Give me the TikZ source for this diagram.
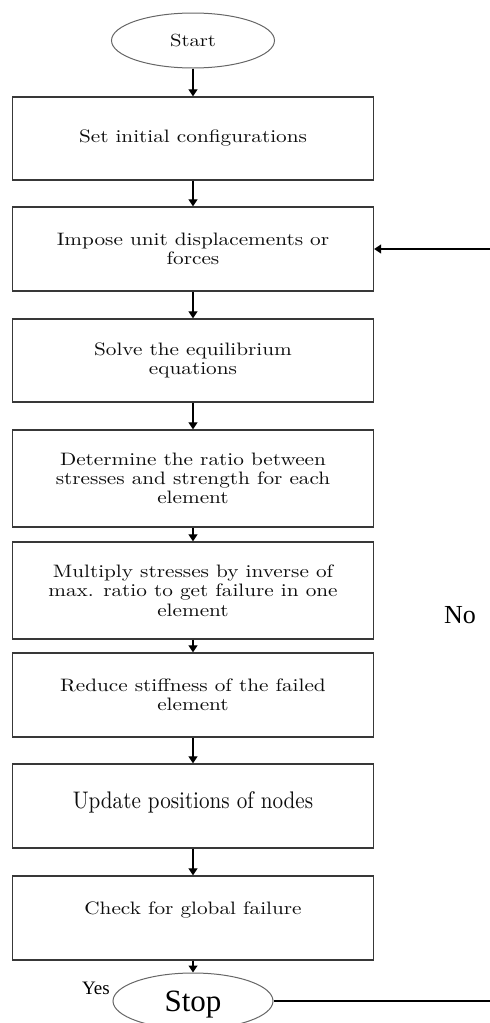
\documentclass[tikz,border=0pt]{standalone}
\usepackage{fontspec}
\usetikzlibrary{arrows.meta,shapes.geometric}
\newfontfamily\boxfont{lmroman10-regular.otf}[FakeStretch=1.18]
\newfontfamily\updfont{lmroman10-regular.otf}[FakeStretch=0.88]
\newfontfamily\tnr{LiberationSerif}[Extension=.ttf, UprightFont=*-Regular]
\definecolor{boxline}{gray}{0.22}
\definecolor{ellline}{gray}{0.4}
\definecolor{textcol}{gray}{0.05}
\begin{document}
\begin{tikzpicture}[x=1pt,y=-1pt,
  procbox/.style={draw=boxline, line width=1.3pt, rectangle, minimum width=361pt,
    inner sep=0pt, align=center, text=textcol, font=\boxfont\fontsize{18}{19.3}\selectfont},
  term/.style={draw=ellline, line width=1pt, ellipse, inner sep=0pt},
  flow/.style={draw=black, line width=1.2pt, -{Triangle[length=7pt,width=9pt]}},
  plain/.style={draw=black, line width=1.1pt}]
\useasboundingbox (0,0) rectangle (490,1023);

\node[term, minimum width=163pt, minimum height=55pt, text=textcol,
      font=\boxfont\fontsize{17.5}{18}\selectfont] (start) at (193,40.5) {Start};

\node[procbox, minimum height=83pt] (b1) at (193,138.5) {Set initial configurations};
\node[procbox, minimum height=84pt] (b2) at (193,249) {Impose unit displacements or\\forces};
\node[procbox, minimum height=83pt] (b3) at (193,360.5) {Solve the equilibrium\\equations};
\node[procbox, minimum height=97pt] (b4) at (193,478.5) {Determine the ratio between\\stresses and strength for each\\element};
\node[procbox, minimum height=97pt] (b5) at (193,590.5) {Multiply stresses by inverse of\\max. ratio to get failure in one\\element};
\node[procbox, minimum height=84pt] (b6) at (193,695) {Reduce stiffness of the failed\\element};
\node[procbox, minimum height=84pt, font=\updfont\fontsize{24}{25}\selectfont,
      text height=16pt, text depth=11pt] (b7) at (193,806) {Update positions of nodes};
\node[procbox, minimum height=84pt, text height=12pt, text depth=20pt] (b8) at (193,918) {Check for global failure};

\node[term, minimum width=160pt, minimum height=56pt, text=black, text depth=0pt,
      font=\tnr\fontsize{31}{31}\selectfont] (stop) at (193,1001) {Stop};

\node[text=black, font=\tnr\fontsize{26}{26}\selectfont] (no) at (460,615) {No};
\node[text=black, font=\tnr\fontsize{19}{19}\selectfont] (yes) at (96,988) {Yes};

\draw[flow] (start.south) -- (b1.north);
\draw[flow] (b1.south) -- (b2.north);
\draw[flow] (b2.south) -- (b3.north);
\draw[flow] (b3.south) -- (b4.north);
\draw[flow] (b4.south) -- (b5.north);
\draw[flow] (b5.south) -- (b6.north);
\draw[flow] (b6.south) -- (b7.north);
\draw[flow] (b7.south) -- (b8.north);
\draw[flow] (b8.south) -- (stop.north);

\coordinate (fbout) at (492,1001);
\coordinate (fbin) at (492,249);
\draw[plain] (stop.east) -- (fbout);
\draw[flow] (fbin) -- (b2.east);
\end{tikzpicture}
\end{document}
